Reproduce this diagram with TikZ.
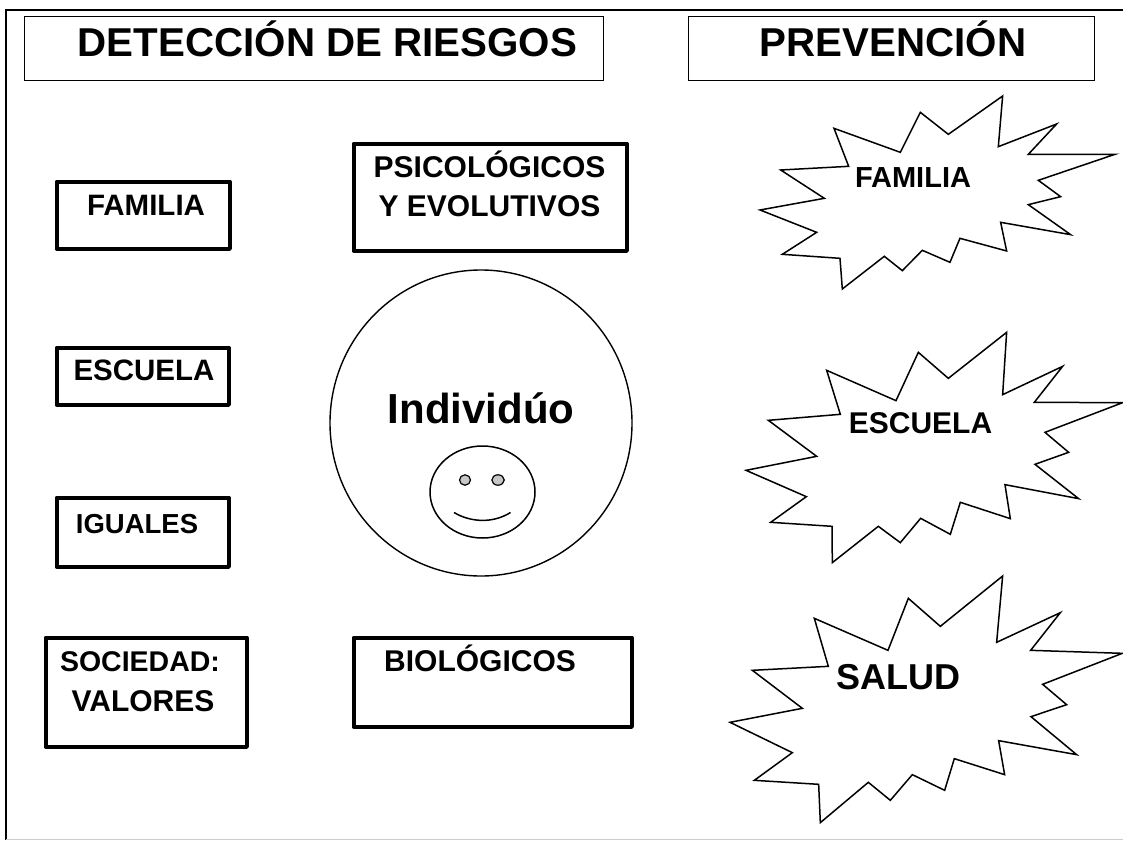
\documentclass[tikz,border=0pt]{standalone}
\usepackage{fontspec}
\setmainfont{Liberation Sans}
\newcommand{\sz}[1]{\fontsize{#1}{#1}\selectfont\bfseries}
\tikzset{
  x=1pt,y=-1pt,
  thinbox/.style={draw=black,line width=1.4pt,fill=white,rectangle,inner sep=0pt,anchor=north west},
  thickbox/.style={draw=black,line width=4.5pt,fill=white,rectangle,inner sep=0pt,anchor=north west,line join=round},
  lbl/.style={anchor=base,inner sep=0pt,align=center,text=black},
  starline/.style={draw=black,line width=1.5pt,line join=miter,fill=white},
}
\begin{document}
\begin{tikzpicture}
\useasboundingbox (0,0) rectangle (1123,840);
\fill[white] (0,0) rectangle (1123,840);
% frame
\draw[line width=2.3pt,black] (6.2,840) -- (6.2,10) -- (1123,10);
\draw[line width=1.2pt,black!20] (6,839.4) -- (1123,839.4);
% headers
\node[thinbox,minimum width=579pt,minimum height=64pt] (hd1) at (24,16) {};
\node[thinbox,minimum width=406pt,minimum height=64pt] (hd2) at (688,16) {};
\node[lbl] (hd1t) at (327.5,57) {\sz{40.3}DETECCIÓN DE RIESGOS};
\node[lbl] (hd2t) at (893,57) {\sz{40.3}PREVENCIÓN};
% left boxes
\node[thickbox,minimum width=173pt,minimum height=67pt] (bf) at (54.5,179.5) {};
\node[thickbox,minimum width=172pt,minimum height=57pt] (be) at (54.5,345.5) {};
\node[thickbox,minimum width=172pt,minimum height=69pt] (bi) at (54.5,495.5) {};
\node[thickbox,minimum width=201pt,minimum height=109pt] (bs) at (43.5,635.5) {};
\node[thickbox,minimum width=273pt,minimum height=107pt] (bp) at (351.5,141.5) {};
\node[thickbox,minimum width=278pt,minimum height=89pt] (bb) at (351.5,635.5) {};
\node[lbl] (tf) at (146,215) {\sz{29.5}FAMILIA};
\node[lbl] (te) at (144,380) {\sz{29.5}ESCUELA};
\node[lbl] (ti) at (137,533) {\sz{27.5}IGUALES};
\node[lbl] (ts1) at (140,671) {\sz{28.5}SOCIEDAD:};
\node[lbl] (ts2) at (143,711) {\sz{30}VALORES};
\node[lbl] (tp1) at (489.5,177) {\sz{30}PSICOLÓGICOS};
\node[lbl] (tp2) at (489.5,216.5) {\sz{30}Y EVOLUTIVOS};
\node[lbl] (tb) at (480,671) {\sz{30}BIOLÓGICOS};
% individual
\draw[line width=1.4pt,black,fill=white] (481,423) ellipse [x radius=151,y radius=153];
\node[lbl] (ind) at (481,423) {\sz{42}Individúo};
\draw[line width=1.5pt,black] (482.5,492) ellipse [x radius=52.5,y radius=46];
\draw[line width=1.2pt,black,fill=black!22] (465,480) ellipse [x radius=5.5,y radius=5.2];
\draw[line width=1.2pt,black,fill=black!22] (498,480) ellipse [x radius=6.2,y radius=5.2];
\draw[line width=1.5pt,black] (454,512.5) .. controls (470,522) and (492,524) .. (510.5,512.5);
% stars
\begin{scope}[shift={(730,90)},x=0.3333pt,y=-0.3333pt]
\draw[starline] (818,18)--(805,170)--(980,102)--(895,193)--(1155,193)--(925,271)--(992,320)--(895,344)--(1022,434)--(812,397)--(830,483)--(690,445)--(660,517)--(577,481)--(517,542)--(463,499)--(337,597)--(330,505)--(157,493)--(260,427)--(90,360)--(283,325)--(152,240)--(356,229)--(312,115)--(511,187)--(571,67)--(655,133)--cycle;
\end{scope}
\begin{scope}[shift={(730,325)},x=0.3333pt,y=-0.3333pt]
\draw[starline] (830,22)--(818,209)--(998,124)--(913,232)--(1178,233)--(945,322)--(1016,382)--(915,418)--(1046,521)--(825,479)--(841,581)--(691,532)--(661,628)--(572,580)--(511,653)--(445,604)--(307,713)--(306,604)--(122,592)--(229,515)--(48,436)--(260,394)--(115,286)--(331,268)--(290,136)--(498,227)--(565,82)--(655,160)--cycle;
\end{scope}
\begin{scope}[shift={(720,570)},x=0.3333pt,y=-0.3333pt]
\draw[starline] (848,18)--(830,217)--(1021,128)--(932,241)--(1207,250)--(968,343)--(1040,404)--(933,440)--(1070,554)--(836,512)--(854,614)--(703,566)--(674,661)--(577,614)--(511,691)--(445,637)--(301,758)--(296,643)--(103,631)--(217,548)--(30,457)--(247,415)--(97,301)--(325,289)--(283,145)--(504,241)--(565,85)--(661,169)--cycle;
\end{scope}
\node[lbl] (sf) at (913,187) {\sz{29}FAMILIA};
\node[lbl] (se) at (920.5,433) {\sz{30}ESCUELA};
\node[lbl] (ss) at (898,689) {\sz{36}SALUD};
\end{tikzpicture}
\end{document}
